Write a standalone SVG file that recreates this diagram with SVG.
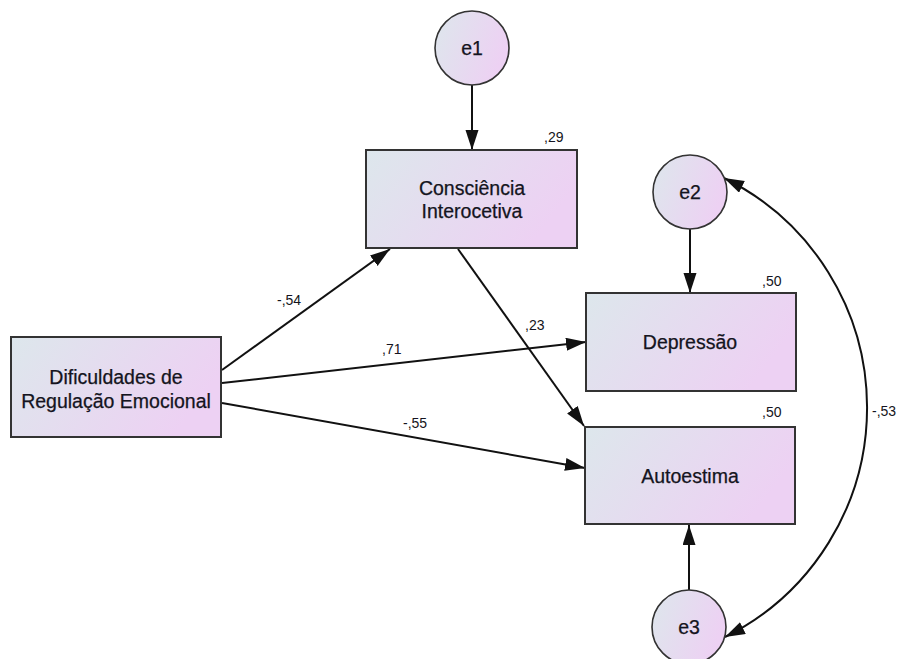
<svg xmlns="http://www.w3.org/2000/svg" width="901" height="659" viewBox="0 0 901 659">
<style>
.node rect{stroke:#333;stroke-width:2;fill:url(#g)}
.node circle{stroke:#333;stroke-width:1.6;fill:url(#g)}
.t{font-family:"Liberation Sans",Arial,sans-serif;font-size:19.5px;fill:#141420;text-anchor:middle;stroke:#141420;stroke-width:0.25}
.n{font-family:"Liberation Sans",Arial,sans-serif;font-size:14px;fill:#141420}
.c{stroke:#111;stroke-width:2;fill:none;marker-end:url(#ah)}
</style>
<defs>
<linearGradient id="g" x1="0" y1="0" x2="1" y2="0.35">
<stop offset="0" stop-color="#dde7ec"/>
<stop offset="1" stop-color="#edd1f3"/>
</linearGradient>
<marker id="ah" markerUnits="userSpaceOnUse" markerWidth="22" markerHeight="14" refX="20" refY="6.5" orient="auto-start-reverse">
<path d="M0,0 L20,6.5 L0,13 z" fill="#111"/>
</marker>
</defs>
<rect width="901" height="659" fill="#fff"/>
<g id="connectors">
<line class="c" x1="472" y1="85" x2="472" y2="150"/>
<line class="c" x1="690" y1="229" x2="690" y2="293"/>
<line class="c" x1="689" y1="590" x2="689" y2="525"/>
<line class="c" x1="222" y1="370" x2="390" y2="249"/>
<line class="c" x1="222" y1="383" x2="586" y2="342"/>
<line class="c" x1="222" y1="403" x2="585" y2="468"/>
<line class="c" x1="458" y1="249" x2="584" y2="426"/>
<path class="c" d="M724 178 A256 256 0 0 1 725 637" marker-start="url(#ah)"/>
<text class="n" x="277" y="305">-,54</text>
<text class="n" x="382" y="354">,71</text>
<text class="n" x="525" y="330">,23</text>
<text class="n" x="403" y="428">-,55</text>
<text class="n" x="872" y="416">-,53</text>
</g>
<g id="e1" class="node"><circle cx="472" cy="48" r="37"/><text class="t" x="472" y="55">e1</text></g>
<g id="e2" class="node"><circle cx="690" cy="192" r="37"/><text class="t" x="690" y="199">e2</text></g>
<g id="e3" class="node"><circle cx="689" cy="627" r="37"/><text class="t" x="689" y="634">e3</text></g>
<g id="consciencia" class="node"><rect x="366" y="150" width="211" height="98"/>
<text class="t" x="472" y="195">Consciência</text><text class="t" x="472" y="218">Interocetiva</text>
<text class="n" x="544" y="142">,29</text></g>
<g id="dificuldades" class="node"><rect x="11" y="337" width="210" height="100"/>
<text class="t" x="116" y="384">Dificuldades de</text><text class="t" x="116" y="408">Regulação Emocional</text></g>
<g id="depressao" class="node"><rect x="586" y="293" width="210" height="98"/>
<text class="t" x="690" y="349">Depressão</text>
<text class="n" x="762" y="286">,50</text></g>
<g id="autoestima" class="node"><rect x="585" y="427" width="210" height="97"/>
<text class="t" x="690" y="483">Autoestima</text>
<text class="n" x="762" y="417">,50</text></g>
</svg>
